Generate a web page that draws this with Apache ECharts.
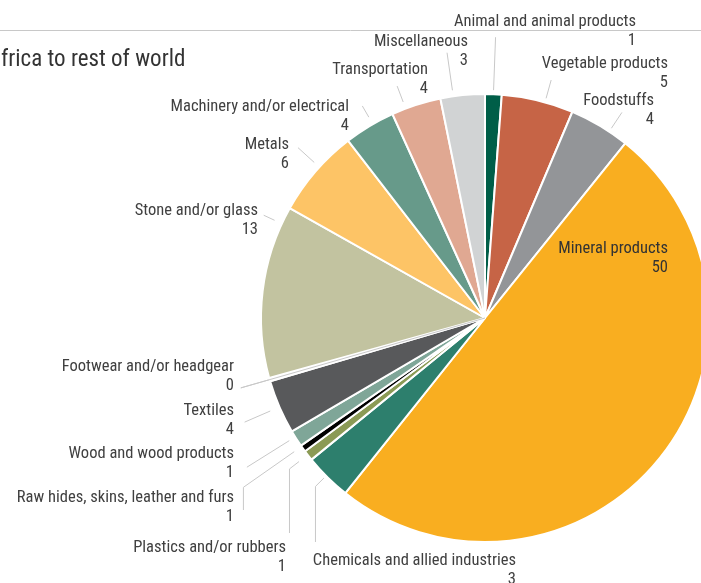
<!DOCTYPE html>
<html><head><meta charset="utf-8">
<script src="https://cdn.jsdelivr.net/npm/echarts@6/dist/echarts.min.js"></script>
<style>html,body{margin:0;padding:0;background:#fff}#c{width:701px;height:583px}</style>
</head><body><div id="c"></div>
<script>
// ---- data ----
const categories = [
  'Animal and animal products', 'Vegetable products', 'Foodstuffs', 'Mineral products',
  'Chemicals and allied industries', 'Plastics and/or rubbers', 'Raw hides, skins, leather and furs',
  'Wood and wood products', 'Textiles', 'Footwear and/or headgear', 'Stone and/or glass',
  'Metals', 'Machinery and/or electrical', 'Transportation', 'Miscellaneous'
];
const shares = [1.2, 5.2, 4.4, 50.1, 3.4, 0.75, 0.5, 1.2, 3.9, 0.25, 12.5, 6.4, 3.7, 3.6, 3.2];
const colors = ['#005e48', '#c66446', '#939598', '#f9ae20', '#2d7f6d', '#8b9a55', '#000000',
  '#7fa698', '#58595b', '#ffffff', '#c2c3a0', '#fdc466', '#679a8a', '#e0a892', '#d1d3d4'];
const titleText = 'frica to rest of world';

// ---- layout (label anchors: right edge x, top y; leader lines: angle offset, r0, r1, vertical end y) ----
const labelAnchors = [[636, 12], [668, 54.5], [654, 91.5], [668, 239.5], [516, 551.5], [286, 538],
  [234, 488], [234, 444.5], [234, 401.5], [234, 357.5], [258, 201.5], [289, 135.5], [349, 97.5],
  [428, 60], [468, 32.5]];
const leaderLines = [[0, 228, 281], [1.9, 228, 247], [2.8, 228, 247], null, [0.5, 227, 239, 542],
  [0.2, 235, 247, 533], [0.6, 233, 295, 510], [0.5, 231, 281], [0, 234, 262], [0, 0, 254],
  [18, 232, 244], [1.5, 231, 253], [1, 232, 245], [-2.8, 231, 248], [-2.4, 230, 268]];
const FONT = '"Liberation Sans Narrow","Arial Narrow","Roboto Condensed","DejaVu Sans Condensed",sans-serif';
const CX = 485, CY = 318, R = 224;
const ZERO_IDX = 9; // slice whose leader runs through the pie
let throughLine = null;

const baseGraphic = [
  {id: 'rule', type: 'line', silent: true, shape: {x1: 0, y1: 30.5, x2: 701, y2: 30.5},
   style: {stroke: '#c8c8c8', lineWidth: 1}},
  {id: 'title', type: 'text', silent: true, x: 1, y: 60,
   style: {text: titleText, font: '23px ' + FONT, fill: '#333333', align: 'left', verticalAlign: 'middle'}}
];

const chart = echarts.init(document.getElementById('c'), null, {renderer: 'canvas'});
chart.setOption({
  animation: false,
  graphic: baseGraphic,
  series: [{
    type: 'pie',
    center: [CX, CY],
    radius: R,
    startAngle: 90,
    clockwise: true,
    avoidLabelOverlap: false,
    silent: true,
    itemStyle: {borderColor: '#ffffff', borderWidth: 2},
    label: {
      show: true,
      formatter: p => p.name + '\n' + Math.round(p.value),
      fontFamily: FONT, fontSize: 16.5, lineHeight: 19, color: '#404040', align: 'right'
    },
    labelLine: {show: true, lineStyle: {color: '#c8c8c8', width: 1}},
    labelLayout: function (params) {
      const i = params.dataIndex;
      const a = labelAnchors[i];
      const out = {x: a[0], y: a[1], align: 'right', verticalAlign: 'top'};
      const L = leaderLines[i];
      const pts = params.labelLinePoints;
      if (L && pts && pts.length) {
        const p = pts[0];
        const th = Math.atan2(p[1] - CY, p[0] - CX) + L[0] * Math.PI / 180;
        const ux = Math.cos(th), uy = Math.sin(th);
        const line = [[CX + ux * L[1], CY + uy * L[1]], [CX + ux * L[2], CY + uy * L[2]]];
        if (L[3] != null) line.push([line[1][0], L[3]]);
        out.labelLinePoints = line;
        if (i === ZERO_IDX) throughLine = line;
      }
      return out;
    },
    data: categories.map((n, i) => {
      const d = {name: n, value: shares[i], itemStyle: {color: colors[i]}};
      if (i === 3) {
        d.label = {position: 'inside', color: '#333333'};
        d.labelLine = {show: false};
      }
      return d;
    })
  }]
});
if (throughLine) {
  chart.setOption({
    graphic: baseGraphic.concat([{id: 'through', type: 'polyline', silent: true, z: 100,
      shape: {points: throughLine}, style: {stroke: '#c8c8c8', lineWidth: 1, fill: null}}])
  });
}
</script></body></html>
